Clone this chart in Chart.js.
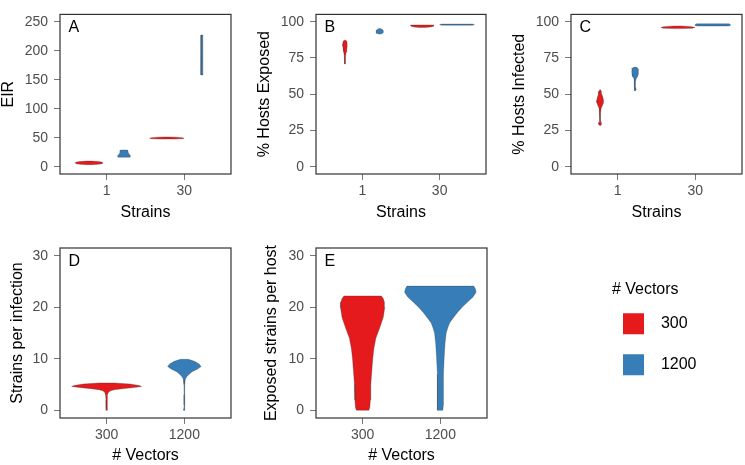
<!DOCTYPE html>
<html><head><meta charset="utf-8">
<script src="https://cdn.jsdelivr.net/npm/chart.js@4.4.1/dist/chart.umd.min.js"></script>
<style>
html,body{margin:0;padding:0;background:#fff}
body{width:745px;height:465px;position:relative;overflow:hidden}
canvas{position:absolute}
</style></head><body>
<canvas id="cA" width="245" height="225" style="left:0;top:0"></canvas>
<canvas id="cB" width="250" height="225" style="left:245px;top:0"></canvas>
<canvas id="cC" width="250" height="225" style="left:495px;top:0"></canvas>
<canvas id="cD" width="245" height="240" style="left:0;top:225px"></canvas>
<canvas id="cE" width="250" height="240" style="left:250px;top:225px"></canvas>
<canvas id="cL" width="142" height="150" style="left:603px;top:266px"></canvas>
<script>
// ---------- categories & tick labels ----------
const strainCats = ['1', '30'];
const vectorCats = ['300', '1200'];
const groupNames = ['300', '1200'];
const groupColors = ['#E41A1C', '#377EB8'];
const ticksEIR = [0, 50, 100, 150, 200, 250];
const ticksPct = [0, 25, 50, 75, 100];
const ticksStrains = [0, 10, 20, 30];

// ---------- violin profiles: value levels (y) and half-widths (w, in category units) ----------
// Panel A: EIR
const eirS1V300_y = [3.6, 4.3, 5.2, 6.2, 7.2, 8.2, 9.0, 9.7];
const eirS1V300_w = [0.03, 0.12, 0.165, 0.175, 0.175, 0.16, 0.12, 0.03];
const eirS1V1200_y = [16.5, 17.5, 19, 21, 23, 25, 27, 28.8];
const eirS1V1200_w = [0.075, 0.083, 0.08, 0.07, 0.06, 0.053, 0.049, 0.046];
const eirS30V300_y = [47.6, 48.2, 49, 50, 51, 51.4];
const eirS30V300_w = [0.08, 0.2, 0.222, 0.2, 0.12, 0.03];
const eirS30V1200_y = [158, 170, 190, 210, 227];
const eirS30V1200_w = [0.012, 0.013, 0.013, 0.013, 0.012];
// Panel B: % hosts exposed
const expS1V300_y = [70.8, 73, 76, 79, 81, 83, 85, 86.5, 87.1];
const expS1V300_w = [0.004, 0.006, 0.009, 0.016, 0.024, 0.028, 0.028, 0.024, 0.01];
const expS1V1200_y = [91.5, 92.0, 92.7, 93.5, 94.3, 95.0, 95.3];
const expS1V1200_w = [0.014, 0.038, 0.047, 0.047, 0.04, 0.022, 0.008];
const expS30V300_y = [96.0, 96.4, 96.9, 97.4, 97.7];
const expS30V300_w = [0.04, 0.11, 0.145, 0.15, 0.148];
const expS30V1200_y = [97.6, 97.9, 98.3];
const expS30V1200_w = [0.2, 0.225, 0.2];
// Panel C: % hosts infected
const infS1V300_y = [28.4, 29.3, 30.5, 31.5, 34, 37, 40, 42, 44, 46, 48, 50, 52, 53];
const infS1V300_w = [0.006, 0.02, 0.015, 0.004, 0.004, 0.006, 0.012, 0.028, 0.042, 0.043, 0.035, 0.022, 0.016, 0.005];
const infS1V1200_y = [52.4, 53.3, 54.5, 56, 58.5, 60.5, 62, 63.5, 65.5, 67.3, 68.2, 68.7];
const infS1V1200_w = [0.005, 0.014, 0.01, 0.004, 0.005, 0.012, 0.03, 0.04, 0.043, 0.04, 0.03, 0.005];
const infS30V300_y = [95.2, 95.5, 96, 96.5, 97.0];
const infS30V300_w = [0.05, 0.19, 0.22, 0.18, 0.05];
const infS30V1200_y = [97.0, 97.3, 98, 98.5];
const infS30V1200_w = [0.2, 0.225, 0.225, 0.21];
// Panel D: strains per infection
const spiV300_y = [0, 0.3, 1, 2, 3, 3.5, 3.8, 4.0, 4.2, 4.4, 4.6, 4.8, 5.1, 5.3];
const spiV300_w = [0.012, 0.006, 0.008, 0.008, 0.015, 0.025, 0.05, 0.1, 0.2, 0.35, 0.45, 0.42, 0.3, 0.1];
const spiV1200_y = [0, 0.3, 1, 3, 5, 6, 6.5, 7, 7.5, 8, 8.5, 9, 9.5, 9.9];
const spiV1200_w = [0.008, 0.006, 0.004, 0.004, 0.005, 0.012, 0.03, 0.06, 0.1, 0.17, 0.215, 0.19, 0.13, 0.05];
// Panel E: exposed strains per host
const esphV300_y = [0, 0.5, 2, 5, 8, 10, 12, 14, 16, 18, 20, 21, 21.7, 22.2];
const esphV300_w = [0.08, 0.092, 0.1, 0.105, 0.12, 0.13, 0.145, 0.17, 0.22, 0.265, 0.285, 0.28, 0.265, 0.24];
const esphV1200_y = [0, 1, 3, 5, 7, 10, 13, 15, 16, 17, 18, 19, 20, 21, 22, 22.9, 23.6, 24.1];
const esphV1200_w = [0.032, 0.038, 0.043, 0.038, 0.038, 0.048, 0.06, 0.075, 0.095, 0.12, 0.17, 0.22, 0.28, 0.35, 0.42, 0.46, 0.45, 0.43];

// ---------- helpers ----------
const FONT = 'Liberation Sans, Arial, sans-serif';
const DODGE = 0.225;

function poly(center, ys, ws) {
  const pts = [];
  for (let i = 0; i < ys.length; i++) pts.push({x: center + ws[i], y: ys[i]});
  for (let i = ys.length - 1; i >= 0; i--) pts.push({x: center - ws[i], y: ys[i]});
  pts.push({x: center + ws[0], y: ys[0]});
  return pts;
}

const deco = {
  id: 'panelDeco',
  afterDraw(chart, args, opts) {
    const {ctx, chartArea: a} = chart;
    ctx.save();
    ctx.strokeStyle = '#333333';
    ctx.lineWidth = 1.2;
    ctx.strokeRect(a.left, a.top, a.right - a.left, a.bottom - a.top);
    ctx.fillStyle = '#000';
    ctx.font = '16px ' + FONT;
    ctx.textBaseline = 'alphabetic';
    ctx.textAlign = 'left';
    ctx.fillText(opts.letter, a.left + 8.5, a.top + 17.5);
    ctx.restore();
  }
};

function panel(id, o) {
  const datasets = o.violins.map(v => ({
    data: poly(v.c, v.y, v.w),
    showLine: true, fill: 'shape',
    backgroundColor: groupColors[v.g],
    borderColor: 'rgba(51,51,51,0.6)', borderWidth: 0.5,
    pointRadius: 0, pointHoverRadius: 0, tension: 0
  }));
  new Chart(document.getElementById(id), {
    type: 'scatter',
    data: {datasets},
    options: {
      responsive: false, animation: false, events: [],
      layout: {padding: {left: o.pl, right: o.pr, top: o.pt, bottom: 0}},
      plugins: {legend: {display: false}, tooltip: {enabled: false}, panelDeco: {letter: o.letter}},
      scales: {
        x: {
          type: 'linear', min: 0.4, max: 2.6,
          afterBuildTicks: s => { s.ticks = [1, 2].map(v => ({value: v})); },
          afterFit: s => { s.height = o.xh; },
          ticks: {callback: (v, i) => o.xcats[i], color: '#4D4D4D', font: {family: FONT, size: 14}, padding: 3, maxRotation: 0, autoSkip: false},
          grid: {drawOnChartArea: false, drawTicks: true, tickLength: 6, color: '#777'},
          border: {display: false},
          title: {display: true, text: o.xtitle, color: '#000', font: {family: FONT, size: 16, lineHeight: 1}, padding: {top: 0, bottom: o.xtp}}
        },
        y: {
          type: 'linear', min: o.ymin, max: o.ymax,
          afterBuildTicks: s => { s.ticks = o.yticks.map(v => ({value: v})); },
          afterFit: s => { s.width = o.yw; },
          ticks: {color: '#4D4D4D', font: {family: FONT, size: 14}, padding: 6, callback: v => String(v)},
          grid: {drawOnChartArea: false, drawTicks: true, tickLength: 6, color: '#777'},
          border: {display: false},
          title: {display: true, text: o.ytitle, color: '#000', font: {family: FONT, size: 16, lineHeight: 1}, padding: {top: 0, bottom: 0}}
        }
      }
    },
    plugins: [deco]
  });
}

// ---------- panels ----------
panel('cA', {letter: 'A', pl: 1, yw: 59, pr: 14, pt: 3.5, xh: 51, xtp: 4,
  ymin: -12.5, ymax: 262.5, yticks: ticksEIR, xcats: strainCats, xtitle: 'Strains', ytitle: 'EIR',
  violins: [
    {c: 1 - DODGE, g: 0, y: eirS1V300_y, w: eirS1V300_w},
    {c: 1 + DODGE, g: 1, y: eirS1V1200_y, w: eirS1V1200_w},
    {c: 2 - DODGE, g: 0, y: eirS30V300_y, w: eirS30V300_w},
    {c: 2 + DODGE, g: 1, y: eirS30V1200_y, w: eirS30V1200_w}
  ]});
panel('cB', {letter: 'B', pl: 12, yw: 59, pr: 9, pt: 3.5, xh: 51, xtp: 4,
  ymin: -5, ymax: 105, yticks: ticksPct, xcats: strainCats, xtitle: 'Strains', ytitle: '% Hosts Exposed',
  violins: [
    {c: 1 - DODGE, g: 0, y: expS1V300_y, w: expS1V300_w},
    {c: 1 + DODGE, g: 1, y: expS1V1200_y, w: expS1V1200_w},
    {c: 2 - DODGE, g: 0, y: expS30V300_y, w: expS30V300_w},
    {c: 2 + DODGE, g: 1, y: expS30V1200_y, w: expS30V1200_w}
  ]});
panel('cC', {letter: 'C', pl: 17, yw: 59, pr: 3, pt: 4, xh: 51, xtp: 4,
  ymin: -5, ymax: 105, yticks: ticksPct, xcats: strainCats, xtitle: 'Strains', ytitle: '% Hosts Infected',
  violins: [
    {c: 1 - DODGE, g: 0, y: infS1V300_y, w: infS1V300_w},
    {c: 1 + DODGE, g: 1, y: infS1V1200_y, w: infS1V1200_w},
    {c: 2 - DODGE, g: 0, y: infS30V300_y, w: infS30V300_w},
    {c: 2 + DODGE, g: 1, y: infS30V1200_y, w: infS30V1200_w}
  ]});
panel('cD', {letter: 'D', pl: 9.5, yw: 50.5, pr: 14, pt: 23, xh: 47, xtp: 1,
  ymin: -1.5, ymax: 31.5, yticks: ticksStrains, xcats: vectorCats, xtitle: '# Vectors', ytitle: 'Strains per infection',
  violins: [
    {c: 1, g: 0, y: spiV300_y, w: spiV300_w},
    {c: 2, g: 1, y: spiV1200_y, w: spiV1200_w}
  ]});
panel('cE', {letter: 'E', pl: 14, yw: 52, pr: 13, pt: 23, xh: 47, xtp: 1,
  ymin: -1.5, ymax: 31.5, yticks: ticksStrains, xcats: vectorCats, xtitle: '# Vectors', ytitle: 'Exposed strains per host',
  violins: [
    {c: 1, g: 0, y: esphV300_y, w: esphV300_w},
    {c: 2, g: 1, y: esphV1200_y, w: esphV1200_w}
  ]});

// ---------- legend ----------
new Chart(document.getElementById('cL'), {
  type: 'bar',
  data: {labels: [], datasets: groupNames.map((n, i) => ({label: '  ' + n, data: [], backgroundColor: groupColors[i], borderWidth: 0}))},
  options: {
    responsive: false, animation: false, events: [],
    scales: {x: {display: false}, y: {display: false}},
    plugins: {
      tooltip: {enabled: false},
      legend: {
        display: true, position: 'left', align: 'start', maxWidth: 142, maxHeight: 150,
        title: {display: true, text: '  # Vectors', position: 'start', color: '#000', font: {family: FONT, size: 16}, padding: {top: 16, bottom: -8}},
        labels: {boxWidth: 21, boxHeight: 21, padding: 20, color: '#000', font: {family: FONT, size: 16}}
      }
    }
  }
});
</script>
</body></html>
